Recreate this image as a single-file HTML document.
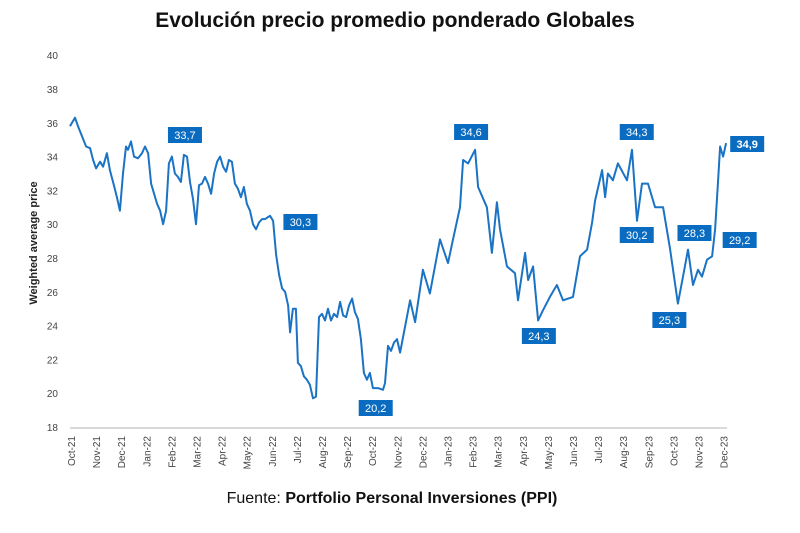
<!DOCTYPE html>
<html><head><meta charset="utf-8"><style>
body{margin:0;background:#fff;width:800px;height:528px;overflow:hidden;font-family:"Liberation Sans",sans-serif}
</style></head><body>
<svg width="800" height="528">
<text x="395" y="27" text-anchor="middle" font-size="21" font-weight="bold" fill="#111">Evolución precio promedio ponderado Globales</text>
<text transform="translate(37,243) rotate(-90)" text-anchor="middle" font-size="11" font-weight="bold" fill="#222">Weighted average price</text>
<text x="392" y="503" text-anchor="middle" font-size="16" fill="#111">Fuente: <tspan font-weight="bold">Portfolio Personal Inversiones (PPI)</tspan></text>
<g id="axes"></g><g id="series"></g><g id="labels"></g>
</svg>
<script>
const months=["Oct-21","Nov-21","Dec-21","Jan-22","Feb-22","Mar-22","Apr-22","May-22","Jun-22","Jul-22","Aug-22","Sep-22","Oct-22","Nov-22","Dec-22","Jan-23","Feb-23","Mar-23","Apr-23","May-23","Jun-23","Jul-23","Aug-23","Sep-23","Oct-23","Nov-23","Dec-23"];
const yTicks=[18,20,22,24,26,28,30,32,34,36,38,40];
// time in months since Oct-21
const xPos=[-0.08,0,0.12,0.24,0.40,0.56,0.72,0.84,0.96,1.12,
1.24,1.39,1.51,1.67,1.79,1.91,2.03,2.15,2.23,2.35,
2.47,2.63,2.79,2.91,3.03,3.15,3.27,3.39,3.51,3.63,
3.75,3.86,3.98,4.10,4.22,4.34,4.46,4.58,4.70,4.82,
4.94,5.06,5.18,5.30,5.42,5.54,5.66,5.78,5.90,6.02,
6.14,6.25,6.37,6.49,6.61,6.73,6.85,6.97,7.09,7.21,
7.33,7.45,7.57,7.69,7.89,8.01,8.13,8.25,8.37,8.49,
8.61,8.69,8.80,8.92,9.00,9.12,9.24,9.36,9.48,9.60,
9.72,9.84,9.96,10.08,10.20,10.32,10.44,10.56,10.68,10.80,
10.92,11.04,11.16,11.27,11.39,11.51,11.63,11.75,11.87,11.99,
12.19,12.39,12.47,12.59,12.71,12.83,12.95,13.07,
13.47,13.67,13.98,14.26,14.66,14.98,15.18,15.46,15.58,15.78,
16.06,16.18,16.53,16.73,16.93,17.05,17.33,17.65,17.77,18.05,
18.17,18.37,18.57,18.76,19.04,19.32,19.56,19.96,20.24,20.52,
20.72,20.84,21.12,21.24,21.35,21.55,21.75,22.11,22.31,22.51,
22.71,22.95,23.23,23.55,23.82,24.14,24.42,24.54,24.74,24.94,
25.10,25.30,25.50,25.62,25.74,25.82,25.94,26.06];
const values=[35.8,36.0,36.3,35.8,35.2,34.6,34.5,33.8,33.3,33.7,
33.4,34.2,33.2,32.3,31.6,30.8,33.0,34.6,34.4,34.9,
34.0,33.9,34.2,34.6,34.2,32.4,31.8,31.2,30.8,30.0,
30.8,33.6,34.0,33.0,32.8,32.5,34.1,34.0,32.5,31.5,
30.0,32.3,32.4,32.8,32.4,31.8,33.0,33.7,34.0,33.4,
33.1,33.8,33.7,32.4,32.1,31.6,32.2,31.2,30.8,30.0,
29.7,30.1,30.3,30.3,30.5,30.2,28.2,27.0,26.2,26.0,
25.2,23.6,25.0,25.0,21.8,21.6,21.0,20.8,20.5,19.7,
19.8,24.5,24.7,24.3,25.0,24.3,24.7,24.5,25.4,24.6,
24.5,25.2,25.6,24.8,24.4,23.2,21.2,20.8,21.2,20.3,
20.3,20.2,20.6,22.8,22.5,23.0,23.2,22.4,
25.5,24.2,27.3,25.9,29.1,27.7,29.1,31.0,33.8,33.6,
34.4,32.2,31.0,28.3,31.3,29.7,27.5,27.1,25.5,28.3,
26.7,27.5,24.3,24.9,25.7,26.4,25.5,25.7,28.1,28.5,
30.1,31.4,33.2,31.6,33.0,32.6,33.6,32.6,34.4,30.2,
32.4,32.4,31.0,31.0,28.6,25.3,27.5,28.5,26.4,27.3,
26.9,27.9,28.1,29.7,32.6,34.6,34.0,34.8];
const annX=[4.5,9.1,12.1,15.9,18.6,22.5,22.5,23.8,24.8,26.6,26.9];
const annY=[135,222,408,132,336,132,235,320,233,240,144];
const annT=["33,7","30,3","20,2","34,6","24,3","34,3","30,2","25,3","28,3","29,2","34,9"];
const X=m=>72+m*25.1, Y=v=>427-(v-18)*16.9;
const NS="http://www.w3.org/2000/svg";
function mk(t,a,p){const e=document.createElementNS(NS,t);for(const k in a)e.setAttribute(k,a[k]);p.appendChild(e);return e;}
const ax=document.getElementById('axes');
yTicks.forEach(v=>{const t=mk('text',{x:58,y:Y(v)+4,'text-anchor':'end','font-size':10,fill:'#444'},ax);t.textContent=v;

});
const base=mk('line',{x1:70,x2:727,y1:428,y2:428,stroke:'#d9d9d9','stroke-width':2},ax);


months.forEach((m,i)=>{const t=mk('text',{transform:`translate(${X(i)+3},436) rotate(-90)`,'text-anchor':'end','font-size':10,fill:'#444'},ax);t.textContent=m;

});
const d=xPos.map((m,i)=>(i?'L':'M')+X(m).toFixed(1)+','+Y(values[i]).toFixed(1)).join('');
const ln=mk('path',{d,fill:'none',stroke:'#1a73c4','stroke-width':2,'stroke-linejoin':'round'},document.getElementById('series'));


const lg=document.getElementById('labels');
annT.forEach((s,i)=>{const cx=X(annX[i]), cy=annY[i];
const g=mk('g',{},lg);


mk('rect',{x:cx-17,y:cy-8,width:34,height:16,fill:'#0a6cc0'},g);
const t=mk('text',{x:cx,y:cy+4,'text-anchor':'middle','font-size':11,fill:'#fff','font-weight':i===10?'bold':'normal'},g);t.textContent=s;});
</script>
</body></html>
